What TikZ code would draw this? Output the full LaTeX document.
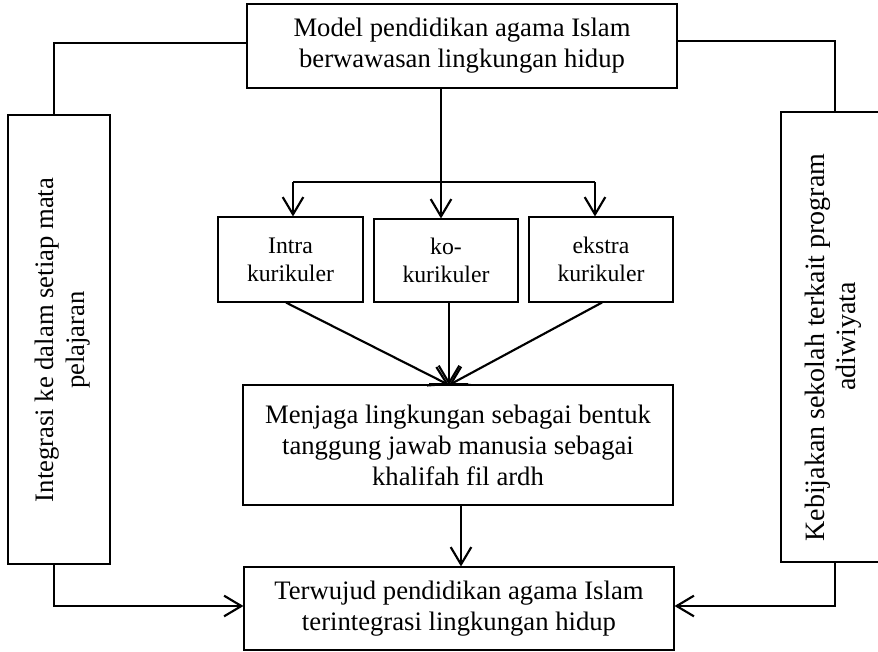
\documentclass[tikz,border=0pt]{standalone}
\usepackage{fontspec}
\setmainfont{Liberation Serif}
\usetikzlibrary{arrows.meta}
\begin{document}
\begin{tikzpicture}[x=0.75pt,y=-0.75pt,
  box/.style={draw, line width=0.8pt, inner sep=0pt, align=center, font=\fontsize{20}{23.25}\selectfont},
  sbox/.style={box, font=\fontsize{17.8}{20.8}\selectfont},
  rtext/.style={rotate=90, align=center, inner sep=0pt, font=\fontsize{20}{23.25}\selectfont},
  conn/.style={line width=1.3pt},
  arr/.style={line width=1.6pt, -{Straight Barb[length=13pt,width=15.5pt,line width=1.6pt]}}]
\useasboundingbox (0,0) rectangle (878,651);

\node[box, minimum width=430*0.75pt, minimum height=84*0.75pt] (top) at (462,46)
  {Model pendidikan agama Islam\\berwawasan lingkungan hidup};
\node[box, minimum width=102*0.75pt, minimum height=449*0.75pt] (left) at (59,339.5) {};
\node[rtext] (lefttext) at (63,340) {Integrasi ke dalam setiap mata\\pelajaran};
\node[box, minimum width=99*0.75pt, minimum height=450*0.75pt] (right) at (830.5,337) {};
\node[rtext, font=\fontsize{21}{23.5}\selectfont] (righttext) at (833,347.5)
  {Kebijakan sekolah terkait program\\\hspace*{16.5pt}adiwiyata};

\node[sbox, minimum width=145*0.75pt, minimum height=85*0.75pt] (intra) at (290.5,259.5) {Intra\\kurikuler};
\node[sbox, minimum width=144*0.75pt, minimum height=83*0.75pt] (ko) at (446,260.5) {ko-\\kurikuler};
\node[sbox, minimum width=144*0.75pt, minimum height=85*0.75pt] (ekstra) at (601,259.5) {ekstra\\kurikuler};

\node[box, minimum width=430*0.75pt, minimum height=120*0.75pt] (mid) at (458,445)
  {Menjaga lingkungan sebagai bentuk\\tanggung jawab manusia sebagai\\khalifah fil ardh};
\node[box, minimum width=430*0.75pt, minimum height=83*0.75pt] (bot) at (459,608.5)
  {Terwujud pendidikan agama Islam\\terintegrasi lingkungan hidup};

% top connectors to side boxes
\draw[conn] (top.west |- 0,43) -| (54,0 |- left.north);
\draw[conn] (top.east |- 0,41) -| (835,0 |- right.north);

% distribution
\coordinate (bl) at (293,182);
\coordinate (br) at (595,182);
\draw[conn] (bl) -- (br);
\draw[arr] (441,0 |- top.south) -- (441,0 |- ko.north);
\draw[arr] (bl) -- (bl |- intra.north);
\draw[arr] (br) -- (br |- ekstra.north);

% convergence
\coordinate (m) at (449,385);
\draw[arr] (286,0 |- intra.south) -- (m);
\draw[arr] (449,0 |- ko.south) -- (m);
\draw[arr] (602,0 |- ekstra.south) -- (m);
\coordinate (barL) at (429,384);
\coordinate (barR) at (468,384);
\draw[line width=2pt] (barL) -- (barR);

% to result
\draw[arr] (461,0 |- mid.south) -- (461,0 |- bot.north);
\draw[arr] (54,0 |- left.south) |- (bot.west |- 0,606);
\draw[arr] (835,0 |- right.south) |- (bot.east |- 0,606);
\end{tikzpicture}
\end{document}
